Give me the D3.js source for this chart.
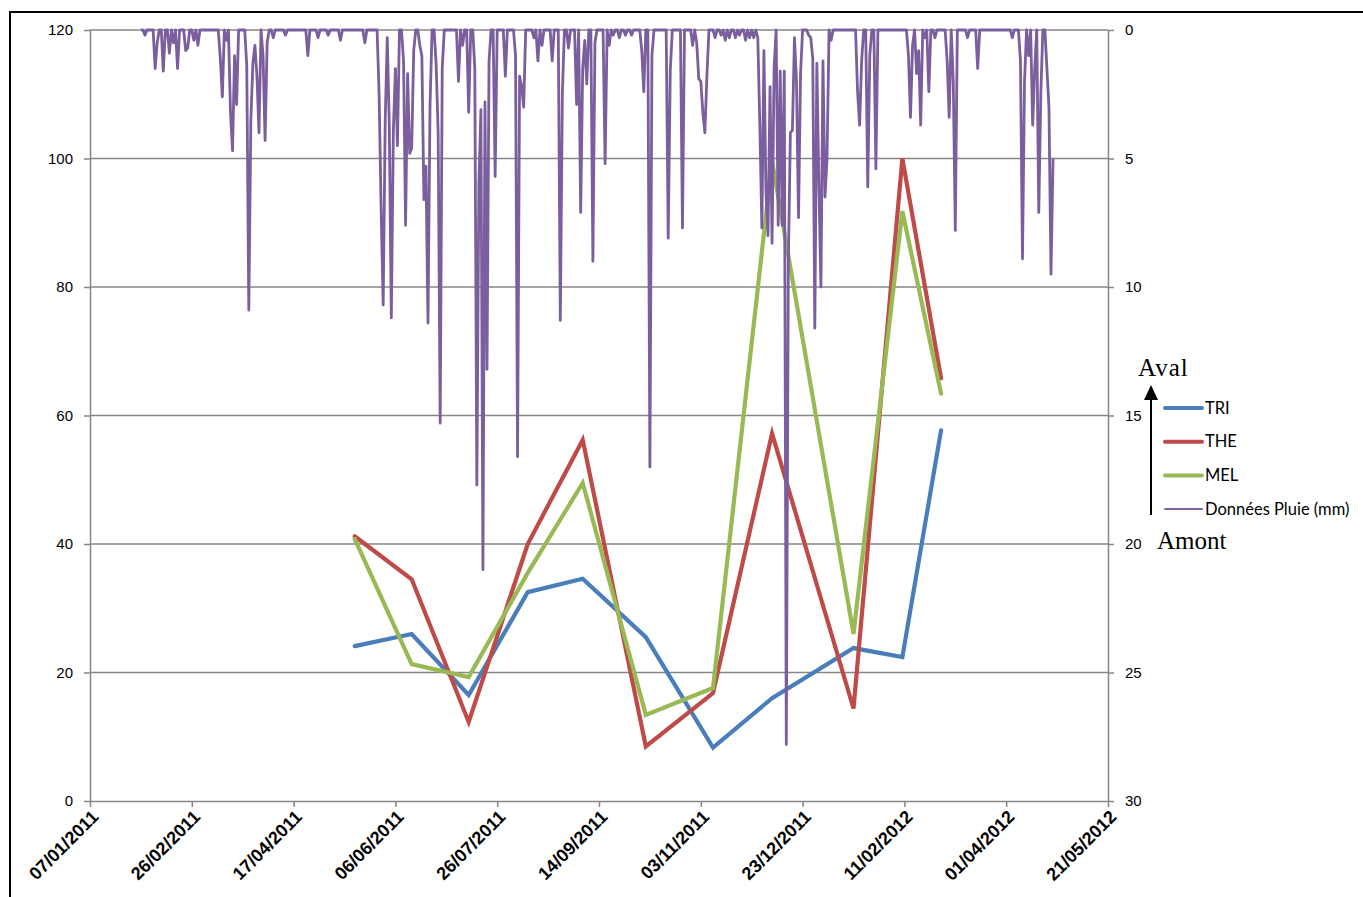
<!DOCTYPE html>
<html>
<head>
<meta charset="utf-8">
<script src="https://cdn.jsdelivr.net/npm/d3@7"></script>
<style>
  body { margin: 0; background: #fff; }
  svg { display: block; font-family: Lato, "Open Sans", sans-serif; }
</style>
</head>
<body>
<script>
// sampling dates shared by the three stations
var sampleDates = ["2011-05-17", "2011-06-14", "2011-07-12", "2011-08-10", "2011-09-06",
  "2011-10-07", "2011-11-09", "2011-12-08", "2012-01-17", "2012-02-10", "2012-02-29"];
var tri = [24.1, 26.0, 16.5, 32.5, 34.6, 25.5, 8.3, 16.0, 23.8, 22.4, 57.7];
var the = [41.2, 34.5, 12.3, 40.0, 56.2, 8.5, 16.8, 57.2, 14.4, 100, 65.8];
var mel = [40.8, 21.3, 19.3, 35.5, 49.5, 13.4, 17.6, 99.6, 26.0, 91.8, 63.4];

// rainy days (mm), every other day of the record is 0
var rainStart = "2011-02-01", rainEnd = "2012-04-24";
var rainDays = [
  ["2011-02-03", 0.2], ["2011-02-08", 1.5], ["2011-02-09", 0.5], ["2011-02-12", 1.6],
  ["2011-02-15", 0.9], ["2011-02-17", 0.5], ["2011-02-19", 1.5], ["2011-02-23", 0.8],
  ["2011-02-24", 0.7], ["2011-02-27", 0.4], ["2011-03-01", 0.6], ["2011-03-12", 1.1],
  ["2011-03-13", 2.6], ["2011-03-15", 0.4], ["2011-03-17", 3.2], ["2011-03-18", 4.7],
  ["2011-03-19", 1.0], ["2011-03-20", 2.9], ["2011-03-25", 1.4], ["2011-03-26", 10.9],
  ["2011-03-27", 3.5], ["2011-03-28", 1.3], ["2011-03-29", 0.6], ["2011-03-30", 1.8],
  ["2011-03-31", 4.0], ["2011-04-02", 1.0], ["2011-04-03", 4.3], ["2011-04-04", 0.5],
  ["2011-04-07", 0.3], ["2011-04-13", 0.2], ["2011-04-24", 1.0], ["2011-04-29", 0.3],
  ["2011-05-04", 0.2], ["2011-05-10", 0.4], ["2011-05-22", 0.5], ["2011-05-29", 2.5],
  ["2011-05-30", 7.0], ["2011-05-31", 10.7], ["2011-06-01", 3.5], ["2011-06-02", 0.3],
  ["2011-06-03", 3.7], ["2011-06-04", 11.2], ["2011-06-05", 3.9], ["2011-06-06", 1.5],
  ["2011-06-07", 4.5], ["2011-06-10", 1.2], ["2011-06-11", 7.6], ["2011-06-12", 1.7],
  ["2011-06-13", 4.8], ["2011-06-14", 4.6], ["2011-06-15", 0.8], ["2011-06-18", 0.6],
  ["2011-06-19", 1.0], ["2011-06-20", 6.6], ["2011-06-21", 5.3], ["2011-06-22", 11.4],
  ["2011-06-23", 3.0], ["2011-06-26", 1.3], ["2011-06-27", 4.0], ["2011-06-28", 15.3],
  ["2011-06-29", 1.5], ["2011-07-07", 2.0], ["2011-07-09", 0.6], ["2011-07-12", 3.2],
  ["2011-07-15", 1.5], ["2011-07-16", 17.7], ["2011-07-17", 6.0], ["2011-07-18", 3.1],
  ["2011-07-19", 21.0], ["2011-07-20", 2.8], ["2011-07-21", 13.2], ["2011-07-22", 1.2],
  ["2011-07-25", 5.7], ["2011-07-30", 1.8], ["2011-08-04", 1.0], ["2011-08-05", 16.6],
  ["2011-08-06", 1.8], ["2011-08-07", 2.2], ["2011-08-08", 3.0], ["2011-08-13", 0.3],
  ["2011-08-15", 1.2], ["2011-08-17", 0.6], ["2011-08-22", 1.2], ["2011-08-26", 11.3],
  ["2011-08-27", 2.5], ["2011-08-30", 0.7], ["2011-09-03", 2.9], ["2011-09-05", 7.1],
  ["2011-09-06", 1.5], ["2011-09-07", 0.4], ["2011-09-08", 2.1], ["2011-09-11", 9.0],
  ["2011-09-12", 0.5], ["2011-09-17", 5.2], ["2011-09-19", 0.6], ["2011-09-21", 0.2],
  ["2011-09-24", 0.3], ["2011-09-27", 0.2], ["2011-09-30", 0.2], ["2011-10-05", 0.8],
  ["2011-10-06", 2.4], ["2011-10-09", 17.0], ["2011-10-10", 1.0], ["2011-10-18", 8.1],
  ["2011-10-19", 1.6], ["2011-10-25", 7.7], ["2011-10-30", 0.6], ["2011-11-01", 0.5],
  ["2011-11-02", 1.9], ["2011-11-03", 2.0], ["2011-11-04", 3.2], ["2011-11-05", 4.0],
  ["2011-11-06", 1.8], ["2011-11-10", 0.3], ["2011-11-13", 0.2], ["2011-11-15", 0.4],
  ["2011-11-17", 0.3], ["2011-11-20", 0.3], ["2011-11-22", 0.2], ["2011-11-25", 0.4],
  ["2011-11-27", 0.3], ["2011-11-29", 0.3], ["2011-12-01", 0.3], ["2011-12-02", 3.7],
  ["2011-12-03", 7.7], ["2011-12-04", 0.8], ["2011-12-05", 6.3], ["2011-12-06", 8.0],
  ["2011-12-07", 2.2], ["2011-12-08", 8.3], ["2011-12-09", 1.5], ["2011-12-11", 7.6],
  ["2011-12-12", 1.6], ["2011-12-13", 7.6], ["2011-12-14", 1.6], ["2011-12-15", 27.8],
  ["2011-12-16", 9.0], ["2011-12-17", 4.0], ["2011-12-18", 3.9], ["2011-12-19", 0.3],
  ["2011-12-20", 2.0], ["2011-12-21", 7.3], ["2011-12-22", 1.7], ["2011-12-26", 0.2],
  ["2011-12-27", 0.3], ["2011-12-28", 1.1], ["2011-12-29", 11.6], ["2011-12-30", 1.3],
  ["2011-12-31", 6.0], ["2012-01-01", 10.0], ["2012-01-02", 1.2], ["2012-01-03", 6.5],
  ["2012-01-04", 5.0], ["2012-01-06", 0.4], ["2012-01-19", 2.4], ["2012-01-20", 3.7],
  ["2012-01-21", 1.2], ["2012-01-24", 6.1], ["2012-01-25", 1.0], ["2012-01-28", 5.4],
  ["2012-02-13", 1.0], ["2012-02-14", 3.4], ["2012-02-15", 0.6], ["2012-02-17", 1.7],
  ["2012-02-18", 0.8], ["2012-02-19", 3.7], ["2012-02-21", 0.3], ["2012-02-23", 2.4],
  ["2012-02-26", 0.3], ["2012-03-03", 1.2], ["2012-03-04", 3.4], ["2012-03-06", 2.0],
  ["2012-03-07", 7.8], ["2012-03-13", 0.3], ["2012-03-18", 1.5], ["2012-04-04", 0.3],
  ["2012-04-08", 1.2], ["2012-04-09", 8.9], ["2012-04-10", 2.0], ["2012-04-12", 1.0],
  ["2012-04-14", 3.7], ["2012-04-15", 1.5], ["2012-04-17", 7.1], ["2012-04-18", 2.5],
  ["2012-04-21", 1.5], ["2012-04-22", 3.0], ["2012-04-23", 9.5], ["2012-04-24", 5.0]
];

var leftTicks = [0, 20, 40, 60, 80, 100, 120];
var rightTicks = [0, 5, 10, 15, 20, 25, 30];
var axisStart = "2011-01-07", axisEnd = "2012-05-21";

var parse = d3.utcParse("%Y-%m-%d");
var fmt = d3.utcFormat("%d/%m/%Y");

var W = 1363, H = 897;
var pLeft = 90, pRight = 1108, pTop = 30, pBottom = 801;

var svg = d3.select("body").append("svg").attr("width", W).attr("height", H);

// chart frame (cut off on the right and bottom, as in the source)
svg.append("path").attr("d", "M10,897 V12 H1363")
  .attr("fill", "none").attr("stroke", "#000").attr("stroke-width", 2);

var x = d3.scaleUtc().domain([parse(axisStart), parse(axisEnd)]).range([pLeft, pRight]);
var y = d3.scaleLinear().domain([0, 120]).range([pBottom, pTop]);
var yr = d3.scaleLinear().domain([0, 30]).range([pTop, pBottom]);

var grey = "#868686";

// gridlines
svg.append("g").selectAll("line").data(leftTicks.filter(function (d) { return d > 0; }))
  .enter().append("line")
  .attr("x1", pLeft).attr("x2", pRight)
  .attr("y1", function (d) { return y(d); }).attr("y2", function (d) { return y(d); })
  .attr("stroke", grey).attr("stroke-width", 1.5);

function styleAxis(g) {
  g.select(".domain").attr("stroke", grey).attr("stroke-width", 1.5);
  g.selectAll(".tick line").attr("stroke", grey).attr("stroke-width", 1.5);
  g.selectAll("text").attr("fill", "#000").style("font-size", "15px");
}

svg.append("g").attr("transform", "translate(" + pLeft + ",0)")
  .call(d3.axisLeft(y).tickValues(leftTicks).tickSize(6).tickSizeOuter(0).tickPadding(11))
  .call(styleAxis);

svg.append("g").attr("transform", "translate(" + pRight + ",0)")
  .call(d3.axisRight(yr).tickValues(rightTicks).tickSize(6).tickSizeOuter(0).tickPadding(11))
  .call(styleAxis);

var dateTicks = d3.range(0, 501, 50).map(function (d) { return d3.utcDay.offset(parse(axisStart), d); });
var xa = svg.append("g").attr("transform", "translate(0," + pBottom + ")")
  .call(d3.axisBottom(x).tickValues(dateTicks).tickFormat(fmt).tickSize(6).tickSizeOuter(0))
  .call(styleAxis);
xa.selectAll("text")
  .style("font-weight", "bold").style("font-size", "18px")
  .attr("text-anchor", "end").attr("dy", null).attr("y", null)
  .attr("transform", "translate(9,17) rotate(-45)");

// station series
var series = [
  {name: "TRI", values: tri, color: "#4a7ebb"},
  {name: "THE", values: the, color: "#be4b48"},
  {name: "MEL", values: mel, color: "#98b954"}
];
var line = d3.line()
  .x(function (d) { return x(d[0]); })
  .y(function (d) { return y(d[1]); });

svg.append("g").selectAll("path").data(series).enter().append("path")
  .attr("d", function (s) {
    return line(sampleDates.map(function (dt, i) { return [parse(dt), s.values[i]]; }));
  })
  .attr("fill", "none").attr("stroke", function (s) { return s.color; })
  .attr("stroke-width", 4.2).attr("stroke-linejoin", "miter").attr("stroke-linecap", "round");

// daily rain on the reversed right axis
var dayKey = d3.utcFormat("%Y-%m-%d");
var rainMap = new Map(rainDays.map(function (d) { return [d[0], d[1]]; }));
var rain = d3.utcDay.range(parse(rainStart), d3.utcDay.offset(parse(rainEnd), 1)).map(function (d) {
  return [d, rainMap.get(dayKey(d)) || 0];
});
var rainLine = d3.line()
  .x(function (d) { return x(d[0]); })
  .y(function (d) { return yr(d[1]); });
svg.append("path").attr("d", rainLine(rain))
  .attr("fill", "none").attr("stroke", "#7b5e9e").attr("stroke-width", 2.8)
  .attr("stroke-linejoin", "round");

// legend
var legend = [
  {name: "TRI", color: "#4a7ebb", w: 4},
  {name: "THE", color: "#be4b48", w: 4},
  {name: "MEL", color: "#98b954", w: 4},
  {name: "Données Pluie (mm)", color: "#7f63a1", w: 2}
];
var lg = svg.append("g").selectAll("g").data(legend).enter().append("g")
  .attr("transform", function (d, i) { return "translate(1165," + (408 + i * 33.7) + ")"; });
lg.append("line").attr("x1", 0).attr("x2", 37)
  .attr("stroke", function (d) { return d.color; })
  .attr("stroke-width", function (d) { return d.w; }).attr("stroke-linecap", "round");
lg.append("text").attr("x", 40).attr("dy", "0.35em")
  .style("font-size", "16.5px").text(function (d) { return d.name; });

// upstream / downstream arrow
svg.append("line").attr("x1", 1151).attr("x2", 1151).attr("y1", 515).attr("y2", 400)
  .attr("stroke", "#000").attr("stroke-width", 2);
svg.append("path").attr("d", "M1144,400 L1151,385 L1158,400 Z").attr("fill", "#000");
svg.append("text").attr("x", 1138).attr("y", 376)
  .style("font-family", "'Liberation Serif', 'DejaVu Serif', serif").style("font-size", "25px")
  .style("letter-spacing", "1px").text("Aval");
svg.append("text").attr("x", 1157).attr("y", 549)
  .style("font-family", "'Liberation Serif', 'DejaVu Serif', serif").style("font-size", "25px")
  .text("Amont");
</script>
</body>
</html>
